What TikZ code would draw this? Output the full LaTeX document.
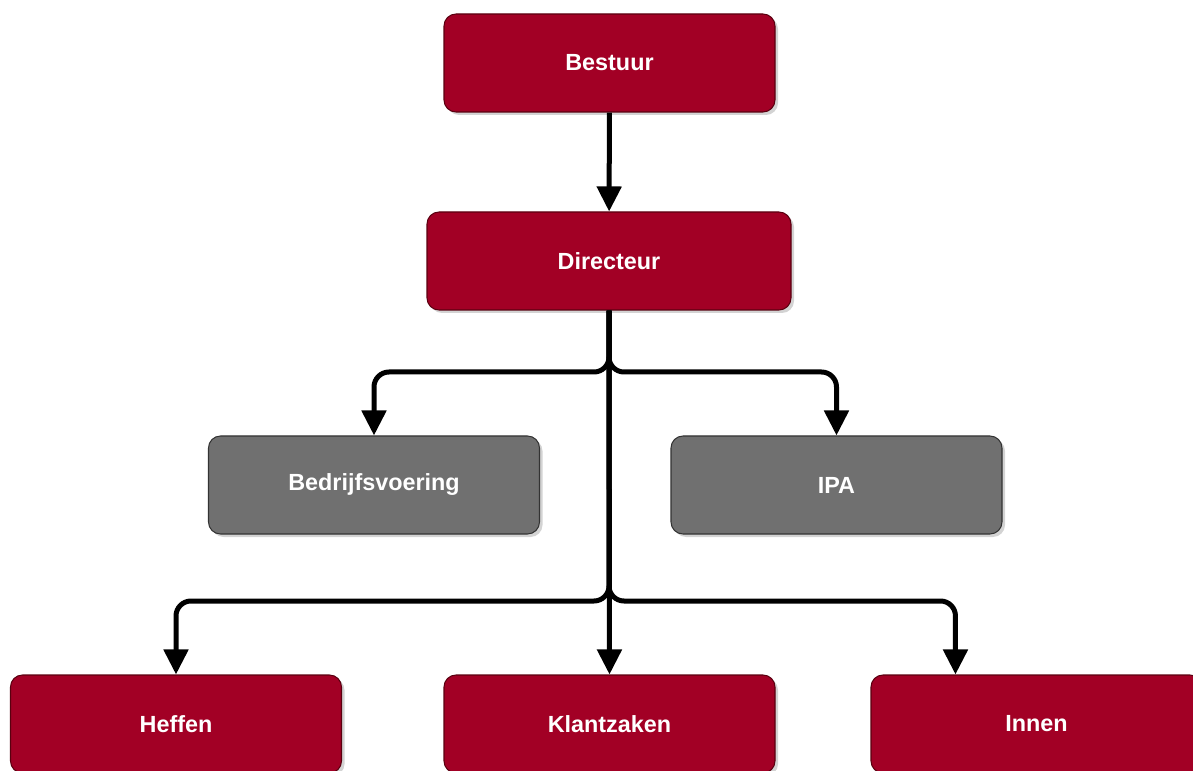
\documentclass[tikz,border=0pt]{standalone}
\usepackage{fontspec}
\setmainfont{Liberation Sans}
\usepackage{xcolor}
\usepackage{tikz}
\usetikzlibrary{arrows.meta,shadows}
\definecolor{boxRed}{HTML}{A20025}
\definecolor{boxRedLine}{HTML}{5A0010}
\definecolor{boxGray}{HTML}{707070}
\definecolor{boxGrayLine}{HTML}{333333}

\begin{document}
\begin{tikzpicture}[
redBox/.style={shape=rectangle,rounded corners=0.24cm,draw=boxRedLine,fill=boxRed,semithick,
    minimum width=6.62cm,minimum height=1.96cm,inner sep=0,text=white,
    font=\fontsize{13.3}{15}\selectfont\bfseries,
    drop shadow={shadow xshift=0.06cm,shadow yshift=-0.06cm,opacity=0.35}},
grayBox/.style={redBox,draw=boxGrayLine,fill=boxGray},
flow/.style={line width=0.1cm,draw=black,rounded corners=0.3cm,
    -{Triangle[width=0.48cm,length=0.5cm]}}
]
\useasboundingbox (0,0) rectangle (23.86,-15.42);
\node[redBox] (best) at (12.19,-1.26) {Bestuur};
\node[redBox,minimum width=7.28cm] (dir) at (12.18,-5.22) {Directeur};
\node[grayBox] (bv) at (7.48,-9.70) {Bedrijfsvoering};
\node[grayBox] (ipa) at (16.73,-9.70) {IPA};
\node[redBox] (heffen) at (3.52,-14.48) {Heffen};
\node[redBox] (kz) at (12.19,-14.48) {Klantzaken};
\node[redBox] (innen) at (20.73,-14.48) {Innen};
\coordinate (bus1) at (12.18,-7.44);
\coordinate (bus2) at (12.18,-12.02);
\draw[flow] (best) -- (dir);
\draw[flow] (dir.south) -- (bus1) -| (bv.north);
\draw[flow] (dir.south) -- (bus1) -| (ipa.north);
\draw[flow] (dir.south) -- (bus2) -| (heffen.north);
\draw[flow] (dir.south) -- (kz.north);
\draw[flow] (dir.south) -- (bus2) -| ([xshift=1.7cm]innen.north west);
\end{tikzpicture}
\end{document}
